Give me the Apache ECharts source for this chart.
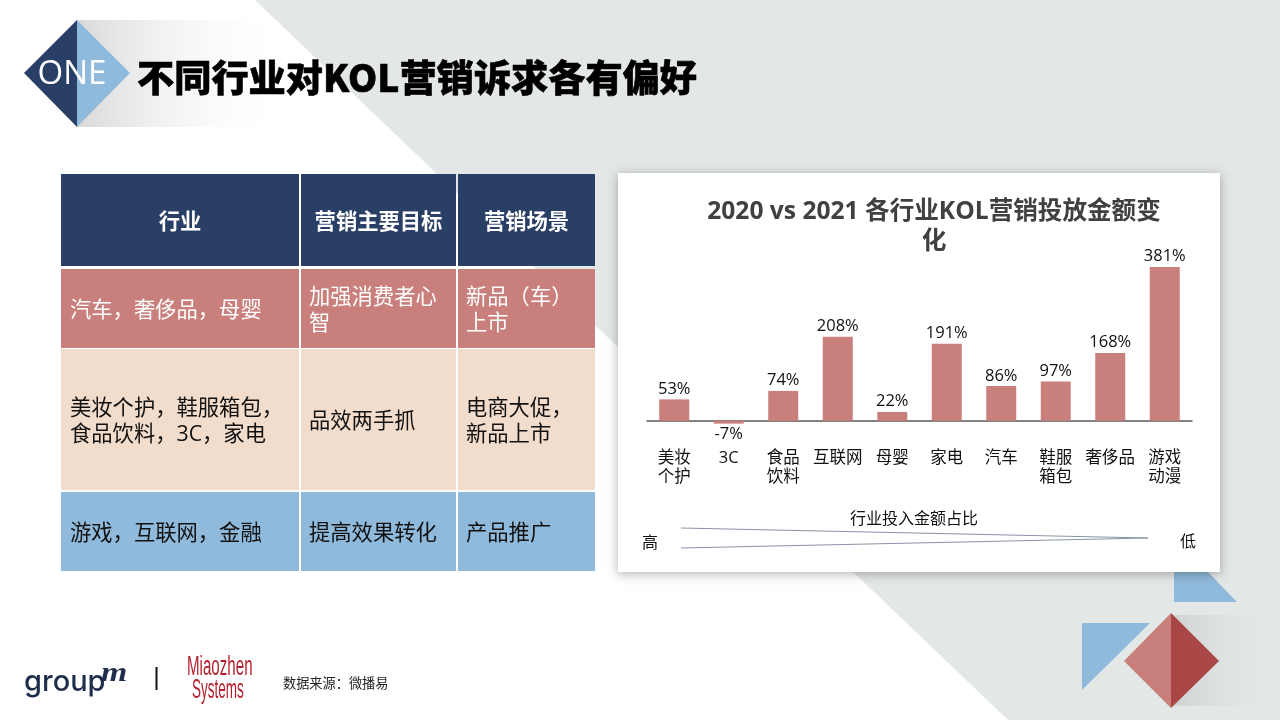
<!DOCTYPE html>
<html>
<head>
<meta charset="utf-8">
<style>
  html, body { margin: 0; padding: 0; background: #fff; }
  #chart { width: 1280px; height: 720px; }
</style>
<script src="https://cdn.jsdelivr.net/npm/echarts@6/dist/echarts.min.js"></script>
</head>
<body>
<div id="chart"></div>
<script>
const industries = ['美妆\n个护', '3C', '食品\n饮料', '互联网', '母婴', '家电', '汽车', '鞋服\n箱包', '奢侈品', '游戏\n动漫'];
const changePct = [53, -7, 74, 208, 22, 191, 86, 97, 168, 381];

const tableHeader = ['行业', '营销主要目标', '营销场景'];
const rowGoalHeart = ['汽车，奢侈品，母婴', '加强消费者心\n智', '新品（车）\n上市'];
const rowGoalBoth = ['美妆个护，鞋服箱包，\n食品饮料，3C，家电', '品效两手抓', '电商大促，\n新品上市'];
const rowGoalEffect = ['游戏，互联网，金融', '提高效果转化', '产品推广'];

const NAVY = '#2a3f66';
const BLUE = '#8fbadb';
const ROSE = '#c97f7c';
const PEACH = '#f2dccb';
const RED = '#a94747';
const GREY_BG = '#e3e7e6';
const FONT = '"Open Sans", "Noto Sans CJK SC", sans-serif';

const poly = (points, fill, z) => ({ type: 'polygon', z: z || 0, shape: { points }, style: { fill } });
const rect = (x, y, width, height, fill, extra) => ({
  type: 'rect', z: 0, shape: { x, y, width, height }, style: Object.assign({ fill }, extra || {})
});
const label = (x, y, text, size, fill, extra) => ({
  type: 'text', z: 1,
  style: Object.assign({
    x, y, text, fill,
    font: `${size}px ${FONT}`,
    textAlign: 'left', textVerticalAlign: 'middle', lineHeight: 26
  }, extra || {})
});
// gradient stops run across the shape's own box
const fade = (from, to) => ({
  type: 'linear', x: 0, y: 0, x2: 1, y2: 0,
  colorStops: [{ offset: 0, color: from }, { offset: 1, color: to }]
});

// table cells
const columns = [[61, 238, 70], [301, 155, 309], [458, 137, 466]];
const rows = [
  { y: 174, h: 92, fill: NAVY, color: '#fff', cells: tableHeader, header: true },
  { y: 269, h: 79, fill: ROSE, color: '#fff', cells: rowGoalHeart },
  { y: 349, h: 141, fill: PEACH, color: '#111', cells: rowGoalBoth },
  { y: 492, h: 79, fill: BLUE, color: '#111', cells: rowGoalEffect }
];
const tableShapes = [];
rows.forEach(row => {
  columns.forEach((col, i) => {
    tableShapes.push(rect(col[0], row.y, col[1], row.h, row.fill));
    if (row.header) {
      tableShapes.push(label(col[0] + col[1] / 2, row.y + row.h / 2 + 3, row.cells[i], 21.3, row.color, {
        textAlign: 'center', font: `bold 21.3px ${FONT}`
      }));
    } else {
      tableShapes.push(label(col[2], row.y + row.h / 2 + 2, row.cells[i], 21.3, row.color));
    }
  });
});

const backdrop = [
  rect(0, 0, 1280, 720, '#ffffff'),
  poly([[255, 0], [1280, 0], [1280, 720], [1008, 720]], GREY_BG),
  rect(77, 20, 210, 107, fade('#d9d9d9', 'rgba(255,255,255,0)')),
  poly([[24, 73], [77, 20], [77, 127]], NAVY),
  poly([[77, 20], [130, 73], [77, 127]], BLUE),
  label(72, 75, 'ONE', 33, '#fff', { textAlign: 'center' }),
  label(137, 78, '不同行业对KOL营销诉求各有偏好', 37.2, '#000', {
    font: `900 37.2px "Noto Sans CJK SC", sans-serif`, stroke: '#000', lineWidth: 0.6
  }),
  poly([[1174, 570], [1206, 570], [1237, 602], [1174, 602]], BLUE),
  poly([[1082, 623], [1150, 623], [1082, 690]], BLUE),
  rect(1171, 615, 109, 91, fade('#cfd2d1', 'rgba(227,231,230,0)')),
  poly([[1171, 613], [1124, 661], [1171, 708]], ROSE),
  poly([[1171, 613], [1219, 661], [1171, 708]], RED),
  rect(618, 173, 602, 399, '#ffffff', { shadowBlur: 10, shadowColor: 'rgba(0,0,0,0.3)', shadowOffsetY: 2 })
];

const wedge = [
  label(914, 519, '行业投入金额占比', 16, '#111', { textAlign: 'center' }),
  label(650, 543, '高', 16, '#111', { textAlign: 'center' }),
  label(1188, 542, '低', 16, '#111', { textAlign: 'center' }),
  { type: 'line', z: 1, shape: { x1: 681, y1: 528, x2: 1148, y2: 538 }, style: { stroke: '#8a94a8', lineWidth: 1 } },
  { type: 'line', z: 1, shape: { x1: 681, y1: 548, x2: 1148, y2: 538 }, style: { stroke: '#8a94a8', lineWidth: 1 } }
];

const footer = [
  label(24, 682, 'group', 29, '#1e2d4a', { font: '500 29px Inter, sans-serif' }),
  { type: 'text', z: 1, x: 101, y: 674, scaleX: 1.25, style: {
    x: 0, y: 0, text: 'm', fill: '#1e2d4a', font: 'italic bold 27px "Liberation Serif", serif', textVerticalAlign: 'middle'
  } },
  rect(155.5, 667, 2, 23, '#111'),
  { type: 'text', z: 1, x: 187, y: 668, scaleX: 0.56, style: {
    x: 0, y: 0, text: 'Miaozhen', fill: '#b5212e', font: '27px "Liberation Sans", sans-serif', textVerticalAlign: 'middle'
  } },
  { type: 'text', z: 1, x: 192, y: 691, scaleX: 0.5, style: {
    x: 0, y: 0, text: 'Systems', fill: '#b5212e', font: '27px "Liberation Sans", sans-serif', textVerticalAlign: 'middle'
  } },
  label(283, 684, '数据来源：微播易', 13.2, '#222')
];

const chart = echarts.init(document.getElementById('chart'));
chart.setOption({
  animation: false,
  textStyle: { fontFamily: FONT },
  title: {
    text: '2020 vs 2021 各行业KOL营销投放金额变\n化',
    left: 929,
    top: 192,
    textAlign: 'center',
    textStyle: { fontSize: 24.6, fontWeight: 'bold', color: '#404040', lineHeight: 30, fontFamily: FONT }
  },
  graphic: { elements: [...backdrop, ...tableShapes, ...wedge, ...footer] },
  grid: { left: 647, right: 88, top: 239, height: 202 },
  xAxis: {
    type: 'category',
    data: industries,
    axisTick: { show: false },
    axisLine: { onZero: true, lineStyle: { color: '#595959', width: 1.5 } },
    axisLabel: { color: '#111', fontSize: 16.5, lineHeight: 19, margin: 8, interval: 0 }
  },
  yAxis: {
    type: 'value',
    min: -50,
    max: 450,
    show: false,
    splitLine: { show: false }
  },
  series: [{
    type: 'bar',
    data: changePct,
    barWidth: 30,
    itemStyle: { color: ROSE },
    label: {
      show: true,
      position: 'outside',
      formatter: '{c}%',
      color: '#111',
      fontSize: 16.5,
      distance: 2
    }
  }]
});
</script>
</body>
</html>
